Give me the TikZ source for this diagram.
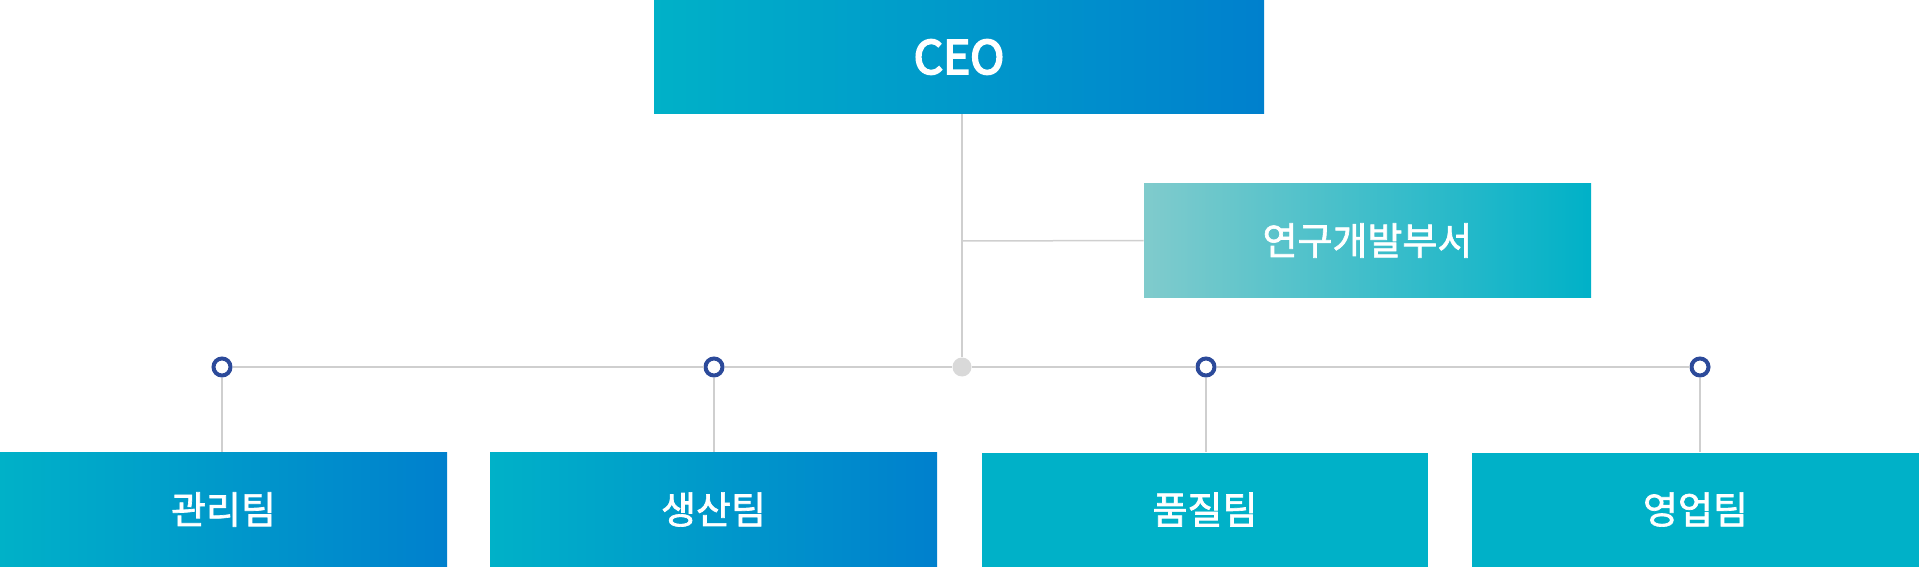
\documentclass[tikz,border=0pt]{standalone}
\usepackage{fontspec}
\setmainfont{Noto Sans CJK KR}
\newfontfamily\krmid[FakeBold=1.8]{Noto Sans CJK KR}
\newfontfamily\ceofont[FakeBold=4]{Noto Sans CJK KR}
\usetikzlibrary{positioning}
\definecolor{tealL}{HTML}{00B1C8}
\definecolor{blueR}{HTML}{0080CD}
\definecolor{mintL}{HTML}{80CBCC}
\definecolor{ringblue}{HTML}{2C4A9A}
\definecolor{linegray}{HTML}{CFCFCF}
\definecolor{dotgray}{HTML}{D9D9D9}
\tikzset{
  orgbox/.style={inner sep=0pt,minimum height=57pt,text=white,font=\krmid\fontsize{19}{22}\selectfont},
  topgrad/.style={left color=tealL,right color=blueR},
  link/.style={draw=linegray,line width=0.75pt},
  joint/.style={circle,draw=ringblue,line width=2pt,fill=white,minimum size=8.5pt,inner sep=0pt},
}
\begin{document}
\begin{tikzpicture}[x=0.5pt,y=-0.5pt]
\useasboundingbox (0,0) rectangle (1919,567);
% top level
\node[orgbox,topgrad,minimum width=305pt,font=\ceofont\fontsize{23}{26}\selectfont] (ceo) at (959,57) {CEO};
\node[orgbox,left color=mintL,right color=tealL,minimum width=223.5pt] (rnd) at (1367.5,240.5) {연구개발부서};
\node[circle,fill=dotgray,minimum size=9.5pt,inner sep=0pt] (hub) at (962,367) {};
\coordinate (rndjoin) at (962,241);
% teams
\node[orgbox,topgrad,minimum width=223.5pt] (mgmt) at (223.5,509.5) {관리팀};
\node[orgbox,topgrad,minimum width=223.5pt] (prod) at (713.5,509.5) {생산팀};
\node[orgbox,fill=tealL,minimum width=223pt] (qual) at (1205,509.5) {품질팀};
\node[orgbox,fill=tealL,minimum width=223.5pt] (sales) at (1695.5,509.5) {영업팀};
% joints
\node[joint] (j1) at (222,367) {};
\node[joint] (j2) at (714,367) {};
\node[joint] (j3) at (1206,367) {};
\node[joint] (j4) at (1700,367) {};
% connectors
\draw[link] (ceo.south -| hub) -- (hub);
\draw[link] (rndjoin) -- (rnd.west);
\draw[link] (j1) -- (j2) (j2) -- (hub) (hub) -- (j3) (j3) -- (j4);
\draw[link] (j1) -- (mgmt.north -| j1);
\draw[link] (j2) -- (prod.north -| j2);
\draw[link] (j3) -- (qual.north -| j3);
\draw[link] (j4) -- (sales.north -| j4);
\end{tikzpicture}
\end{document}
